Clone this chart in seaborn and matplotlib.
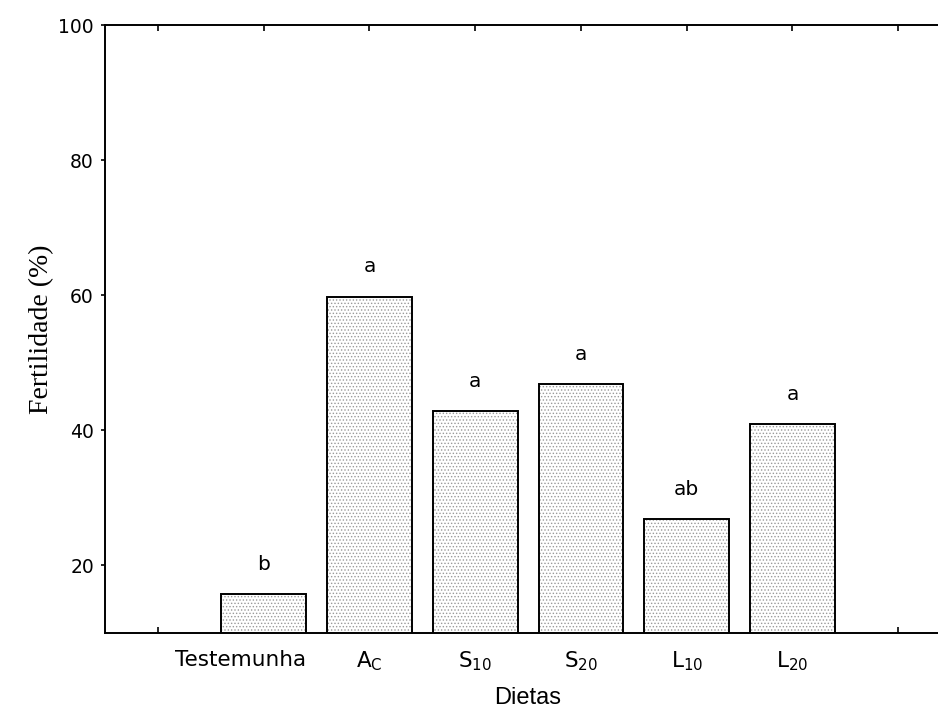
import matplotlib
matplotlib.use("Agg")
import matplotlib.pyplot as plt
import matplotlib.transforms as mtransforms
import pandas as pd
import seaborn as sns

# valores
dietas = ["Testemunha", r"A$_\mathregular{C}$", r"S$_\mathregular{10}$",
          r"S$_\mathregular{20}$", r"L$_\mathregular{10}$", r"L$_\mathregular{20}$"]
fertilidade = [15.8, 59.8, 42.9, 46.9, 26.9, 40.9]
letras = ["b", "a", "a", "a", "ab", "a"]
y_ticks = [20, 40, 60, 80, 100]

sns.set_style("ticks")
plt.rcParams["font.family"] = ["DejaVu Sans"]
plt.rcParams["text.color"] = "black"
plt.rcParams["axes.labelcolor"] = "black"
plt.rcParams["xtick.color"] = "black"
plt.rcParams["ytick.color"] = "black"
plt.rcParams["axes.edgecolor"] = "black"
plt.rcParams["hatch.linewidth"] = 0.6
plt.rcParams["hatch.color"] = "#9a9a9a"

df = pd.DataFrame({"dieta": dietas, "fert": fertilidade})

fig = plt.figure(figsize=(9.38, 7.09), dpi=100)
ax = fig.add_axes([0.112, 0.1072, 1.014 - 0.112, 0.9647 - 0.1072])

# preenchimento pontilhado, depois contorno preto por cima
sns.barplot(data=df, x="dieta", y="fert", order=dietas, ax=ax, width=0.8,
            color="white", saturation=1, linewidth=0, errorbar=None)
for p in ax.patches:
    p.set_hatch(".....")
    p.set_edgecolor("#9a9a9a")
    p.set_linewidth(0)
sns.barplot(data=df, x="dieta", y="fert", order=dietas, ax=ax, width=0.8,
            fill=False, edgecolor="black", linewidth=1.4, errorbar=None)

for i, (v, l) in enumerate(zip(fertilidade, letras)):
    ax.text(i, v + 4.4, l, ha="center", va="center", fontsize=14.5)

ax.set_xlim(-1.5, 6.5)
ax.set_ylim(10, 100)
ax.set_xticks(range(-1, 7))
ax.set_xticklabels([""] + dietas + [""])
ax.set_yticks(y_ticks)

ax.tick_params(axis="x", direction="in", top=True, length=4, width=1.2,
               pad=12, labelsize=15.5)
ax.tick_params(axis="y", direction="out", length=3, width=1.2, pad=5,
               labelsize=13.5, right=False)
for s in ["left", "top", "bottom"]:
    ax.spines[s].set_linewidth(1.4)
ax.spines["right"].set_visible(False)

# no original o rótulo "Testemunha" fica um pouco à esquerda do seu tick
lab = ax.get_xticklabels()[1]
lab.set_transform(lab.get_transform() +
                  mtransforms.ScaledTranslation(-0.23, 0, fig.dpi_scale_trans))

ax.set_xlabel("Dietas", fontsize=17, family="Liberation Sans", labelpad=10)
ax.set_ylabel("Fertilidade (%)", fontsize=20, family="Liberation Serif",
              labelpad=3)

fig.savefig("out.png", dpi=100)
